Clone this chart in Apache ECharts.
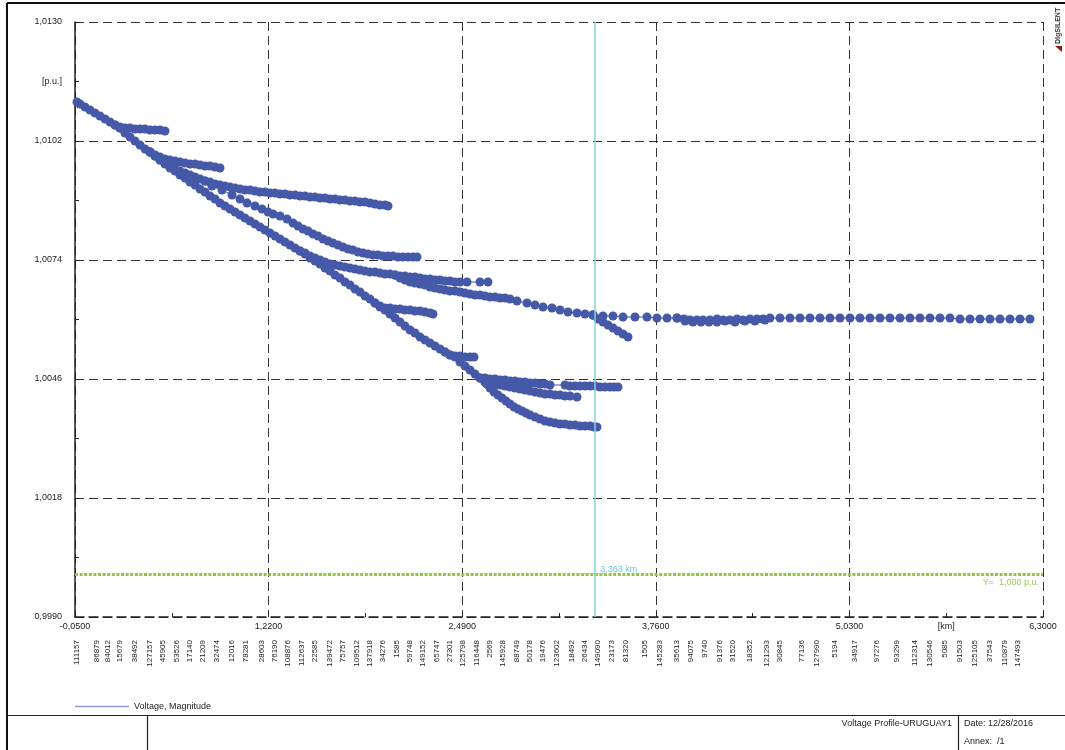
<!DOCTYPE html>
<html>
<head>
<meta charset="utf-8">
<title>Voltage Profile-URUGUAY1</title>
<script src="https://cdn.jsdelivr.net/npm/echarts@6/dist/echarts.min.js"></script>
<style>
html, body { margin: 0; padding: 0; background: #fff; }
#chart { width: 1065px; height: 750px; }
</style>
</head>
<body>
<div id="chart"></div>
<script>
// axis ranges and label positions
var xLabelVals = [-0.05, 1.22, 2.49, 3.76, 5.03, 5.665, 6.3];
var yLabelVals = [0.999, 1.0018, 1.0046, 1.0074, 1.0102, 1.0116, 1.013];

// node names printed under the x axis, and their distances [km]
var nodeNames = ['111157','86879','84012','15679','38492','127157','45905','53526','17140','21209','32474','12016','78281','28603','76190','108876','112637','22585','139472','75757','109512','137918','34276','1585','59748','149152','65747','27301','125798','116448','2569','145928','88749','50178','19476','123602','18492','26434','149090','23173','81320','1505','145283','35613','94075','9740','91376','31520','18352','121293','30845','77136','127990','5194','34917','97276','93299','112314','130546','5085','91503','125105','37543','110879','147493'];
var nodeKm = [-0.0369,0.0943,0.1665,0.2452,0.3436,0.4420,0.5273,0.6191,0.7044,0.7897,0.8815,0.9799,1.0717,1.1767,1.2620,1.3473,1.4391,1.5244,1.6228,1.7081,1.7999,1.8852,1.9704,2.0623,2.1476,2.2328,2.3247,2.4100,2.4952,2.5871,2.6724,2.7576,2.8495,2.9348,3.0200,3.1119,3.2103,3.2956,3.3808,3.4727,3.5645,3.6891,3.7876,3.8991,3.9909,4.0827,4.1811,4.2664,4.3779,4.4895,4.5747,4.7190,4.8174,4.9355,5.0667,5.2110,5.3422,5.4603,5.5587,5.6571,5.7555,5.8539,5.9523,6.0507,6.1360];

// voltage profile branches [km, p.u.]
var trunkStart = [[-0.0369,1.011118],[-0.0172,1.011071],[0.0156,1.011000],[0.0484,1.010929],[0.0812,1.010859],[0.1140,1.010788],[0.1468,1.010718],[0.1796,1.010647],[0.2124,1.010576],[0.2452,1.010506]];
var flatTop = [[0.2124,1.010576],[0.2452,1.010529],[0.2780,1.010506],[0.3108,1.010506],[0.3436,1.010482],[0.3764,1.010482],[0.4092,1.010482],[0.4420,1.010459],[0.4748,1.010459],[0.5076,1.010459],[0.5404,1.010435]];
var trunkMid = [[0.2452,1.010506],[0.2780,1.010388],[0.3108,1.010294],[0.3436,1.010200],[0.3764,1.010106],[0.4092,1.010012],[0.4420,1.009941]];
var clusterBranch = [[0.4420,1.009941],[0.4748,1.009871],[0.5076,1.009824],[0.5404,1.009776],[0.5732,1.009753],[0.6060,1.009729],[0.6388,1.009706],[0.6716,1.009682],[0.7044,1.009659],[0.7372,1.009659],[0.7700,1.009635],[0.8028,1.009612],[0.8356,1.009612],[0.8684,1.009588],[0.9012,1.009565]];
var upperBranch = [[0.4420,1.009941],[0.4748,1.009847],[0.5076,1.009753],[0.5404,1.009682],[0.5732,1.009612],[0.6060,1.009541],[0.6388,1.009494],[0.6716,1.009447],[0.7044,1.009400],[0.7372,1.009353],[0.7700,1.009306],[0.8028,1.009259],[0.8356,1.009235],[0.8684,1.009188],[0.9012,1.009165],[0.9340,1.009141],[0.9668,1.009118],[0.9996,1.009094],[1.0324,1.009071],[1.0652,1.009047],[1.0980,1.009047],[1.1308,1.009024],[1.1636,1.009000],[1.1964,1.009000],[1.2292,1.008976],[1.2620,1.008976],[1.2948,1.008953],[1.3276,1.008953],[1.3604,1.008929],[1.3932,1.008929],[1.4260,1.008906],[1.4588,1.008906],[1.4916,1.008882],[1.5244,1.008882],[1.5572,1.008859],[1.5900,1.008859],[1.6228,1.008835],[1.6556,1.008835],[1.6884,1.008812],[1.7212,1.008812],[1.7540,1.008788],[1.7868,1.008788],[1.8196,1.008765],[1.8524,1.008765],[1.8852,1.008741],[1.9180,1.008718],[1.9508,1.008694],[1.9836,1.008694],[2.0032,1.008671]];
var dottedBranch = [[0.8028,1.009259],[0.8487,1.009141],[0.9143,1.009047],[0.9799,1.008929],[1.0324,1.008835],[1.0783,1.008741],[1.1308,1.008671],[1.1767,1.008600],[1.2161,1.008529],[1.2489,1.008482],[1.2948,1.008435],[1.3407,1.008365],[1.3801,1.008271],[1.4129,1.008200],[1.4457,1.008129],[1.4785,1.008082],[1.5113,1.008012],[1.5441,1.007965],[1.5769,1.007894],[1.6097,1.007847],[1.6425,1.007800],[1.6753,1.007753],[1.7081,1.007706],[1.7409,1.007659],[1.7737,1.007635],[1.8065,1.007588],[1.8393,1.007565],[1.8721,1.007541],[1.9049,1.007518],[1.9376,1.007518],[1.9704,1.007494],[2.0032,1.007494],[2.0360,1.007494],[2.0688,1.007471],[2.1016,1.007471],[2.1344,1.007471],[2.1672,1.007471],[2.1935,1.007471]];
var lowerTrunk = [[0.4420,1.009941],[0.4748,1.009847],[0.5076,1.009753],[0.5404,1.009659],[0.5732,1.009565],[0.6060,1.009494],[0.6388,1.009400],[0.6716,1.009329],[0.7044,1.009235],[0.7372,1.009165],[0.7700,1.009071],[0.8028,1.009000],[0.8356,1.008906],[0.8684,1.008835],[0.9012,1.008741],[0.9340,1.008671],[0.9668,1.008600],[0.9996,1.008529],[1.0324,1.008459],[1.0652,1.008388],[1.0980,1.008318],[1.1308,1.008247],[1.1636,1.008176],[1.1964,1.008106],[1.2292,1.008035],[1.2620,1.007965],[1.2948,1.007894],[1.3276,1.007824],[1.3604,1.007753],[1.3932,1.007682],[1.4260,1.007612],[1.4588,1.007541],[1.4916,1.007447],[1.5244,1.007376],[1.5572,1.007306],[1.5900,1.007212],[1.6228,1.007141],[1.6556,1.007047],[1.6884,1.006976],[1.7212,1.006882],[1.7540,1.006812],[1.7868,1.006718],[1.8196,1.006647],[1.8524,1.006553],[1.8852,1.006482],[1.9180,1.006388],[1.9508,1.006318],[1.9836,1.006224],[2.0164,1.006129],[2.0492,1.006035],[2.0820,1.005941],[2.1148,1.005847],[2.1476,1.005753],[2.1804,1.005682],[2.2132,1.005588],[2.2460,1.005518],[2.2788,1.005447],[2.3116,1.005376],[2.3444,1.005306],[2.3772,1.005235],[2.4100,1.005165],[2.4428,1.005118],[2.4756,1.005000],[2.5084,1.004906],[2.5412,1.004812],[2.5740,1.004718],[2.6068,1.004624],[2.6396,1.004529],[2.6527,1.004482]];
var midBranch = [[1.4260,1.007612],[1.4588,1.007565],[1.4916,1.007494],[1.5244,1.007447],[1.5572,1.007400],[1.5900,1.007353],[1.6228,1.007306],[1.6556,1.007282],[1.6884,1.007259],[1.7212,1.007235],[1.7540,1.007212],[1.7868,1.007188],[1.8196,1.007165],[1.8524,1.007141],[1.8852,1.007118],[1.9180,1.007118],[1.9508,1.007094],[1.9836,1.007071],[2.0164,1.007071],[2.0492,1.007047],[2.0820,1.007024],[2.1148,1.007024],[2.1476,1.007000],[2.1804,1.007000],[2.2132,1.006976],[2.2460,1.006953],[2.2788,1.006953],[2.3116,1.006929],[2.3444,1.006929],[2.3772,1.006906],[2.4100,1.006906],[2.4428,1.006882],[2.4756,1.006882],[2.5215,1.006882],[2.6068,1.006882],[2.6592,1.006882]];
var mainFeeder = [[2.0492,1.007047],[2.0820,1.006976],[2.1148,1.006929],[2.1476,1.006882],[2.1804,1.006859],[2.2132,1.006835],[2.2460,1.006812],[2.2788,1.006765],[2.3116,1.006741],[2.3444,1.006718],[2.3772,1.006694],[2.4100,1.006671],[2.4428,1.006671],[2.4756,1.006647],[2.5084,1.006624],[2.5412,1.006600],[2.5740,1.006576],[2.6068,1.006576],[2.6396,1.006553],[2.6724,1.006529],[2.7052,1.006529],[2.7380,1.006506],[2.7708,1.006506],[2.8036,1.006482],[2.8495,1.006435],[2.9151,1.006388],[2.9676,1.006341],[3.0200,1.006294],[3.0791,1.006271],[3.1316,1.006224],[3.1840,1.006176],[3.2431,1.006153],[3.2956,1.006129],[3.3480,1.006106]];
var tail = [[3.3480,1.006106],[3.4136,1.006082],[3.4792,1.006082],[3.5448,1.006059],[3.6235,1.006059],[3.7023,1.006059],[3.7679,1.006035],[3.8335,1.006035],[3.8991,1.006035],[3.9450,1.006012],[3.9844,1.005988],[4.0303,1.005988],[4.0696,1.005988],[4.1155,1.005988],[4.1615,1.006012],[4.2008,1.005988],[4.2467,1.005988],[4.2927,1.006012],[4.3320,1.005988],[4.3779,1.006012],[4.4239,1.006012],[4.4632,1.006012],[4.5091,1.006035],[4.5747,1.006035],[4.6403,1.006035],[4.7059,1.006035],[4.7715,1.006035],[4.8371,1.006035],[4.9027,1.006035],[4.9683,1.006035],[5.0339,1.006035],[5.0995,1.006035],[5.1651,1.006035],[5.2307,1.006035],[5.2963,1.006035],[5.3619,1.006035],[5.4275,1.006035],[5.4931,1.006035],[5.5587,1.006035],[5.6243,1.006035],[5.6899,1.006035],[5.7555,1.006012],[5.8211,1.006012],[5.8867,1.006012],[5.9523,1.006012],[6.0179,1.006012],[6.0835,1.006012],[6.1491,1.006012],[6.2147,1.006012]];
var tailSide = [[3.8991,1.006035],[3.9516,1.005965],[4.0040,1.005941],[4.0565,1.005941],[4.1090,1.005941],[4.1615,1.005941],[4.2139,1.005965],[4.2795,1.005941],[4.3451,1.005965],[4.4107,1.005965],[4.4763,1.005988]];
var cursorBranch = [[3.3480,1.006106],[3.3808,1.006012],[3.4136,1.005941],[3.4464,1.005871],[3.4792,1.005800],[3.5120,1.005729],[3.5448,1.005659],[3.5776,1.005588]];
var shortBranch1 = [[1.9180,1.006388],[1.9508,1.006294],[1.9836,1.006271],[2.0164,1.006271],[2.0492,1.006247],[2.0820,1.006247],[2.1148,1.006224],[2.1476,1.006224],[2.1804,1.006200],[2.2132,1.006200],[2.2460,1.006176],[2.2788,1.006153],[2.2984,1.006129]];
var shortBranch2 = [[2.3772,1.005235],[2.4100,1.005165],[2.4428,1.005141],[2.4756,1.005141],[2.5084,1.005118],[2.5412,1.005118],[2.5674,1.005118]];
var branchK = [[2.6068,1.004624],[2.6396,1.004624],[2.6724,1.004600],[2.7052,1.004600],[2.7380,1.004576],[2.7708,1.004576],[2.8036,1.004553],[2.8364,1.004553],[2.8692,1.004529],[2.9020,1.004529],[2.9348,1.004506],[2.9676,1.004506],[3.0004,1.004482],[3.0332,1.004482],[3.0660,1.004459],[3.1644,1.004459],[3.1972,1.004435],[3.2300,1.004435],[3.2628,1.004435],[3.2956,1.004435],[3.3284,1.004435],[3.3612,1.004435],[3.3940,1.004412],[3.4268,1.004412],[3.4596,1.004412],[3.4858,1.004412],[3.5120,1.004412]];
var branchL = [[2.6396,1.004529],[2.6724,1.004506],[2.7052,1.004482],[2.7380,1.004459],[2.7708,1.004435],[2.8036,1.004412],[2.8364,1.004388],[2.8692,1.004365],[2.9020,1.004341],[2.9348,1.004318],[2.9676,1.004294],[3.0004,1.004271],[3.0332,1.004247],[3.0660,1.004247],[3.0988,1.004224],[3.1316,1.004224],[3.1644,1.004200],[3.1972,1.004200],[3.2431,1.004176]];
var branchM = [[2.6527,1.004482],[2.6724,1.004388],[2.6986,1.004294],[2.7248,1.004224],[2.7511,1.004153],[2.7773,1.004082],[2.8036,1.004012],[2.8298,1.003941],[2.8560,1.003894],[2.8823,1.003847],[2.9085,1.003800],[2.9348,1.003753],[2.9676,1.003706],[3.0004,1.003659],[3.0332,1.003612],[3.0660,1.003588],[3.0988,1.003565],[3.1316,1.003541],[3.1644,1.003541],[3.1972,1.003518],[3.2300,1.003518],[3.2628,1.003494],[3.2956,1.003494],[3.3284,1.003494],[3.3546,1.003471],[3.3743,1.003471]];

var branches = [trunkStart, flatTop, trunkMid, clusterBranch, upperBranch, dottedBranch, lowerTrunk, midBranch,
    mainFeeder, tail, tailSide, cursorBranch, shortBranch1, shortBranch2, branchK, branchL, branchM];

var cursorKm = 3.363;
var refVoltage = 1.0;

var BLUE = '#4559a8';
var FONT = '"Liberation Sans", Arial, sans-serif';
var NARROW = '"Liberation Sans Narrow", "Liberation Sans", Arial, sans-serif';

function fmt(v) {
    return v.toFixed(4).replace('.', ',');
}

var myChart = echarts.init(document.getElementById('chart'), null, {renderer: 'canvas'});

var series = branches.map(function (d) {
    return {
        type: 'line',
        name: 'Voltage, Magnitude',
        data: d,
        symbol: 'circle',
        symbolSize: 9,
        showSymbol: true,
        itemStyle: {color: BLUE},
        lineStyle: {color: BLUE, width: 1},
        silent: true,
        z: 3
    };
});

// cursor line, reference line and their labels
series.push({
    type: 'line',
    name: 'cursor',
    data: [],
    silent: true,
    z: 5,
    markLine: {
        silent: true,
        symbol: ['none', 'none'],
        animation: false,
        data: [
            {yAxis: refVoltage, lineStyle: {color: '#8dc63f', width: 3, type: [3, 1.6]},
                label: {show: true, position: 'insideEndBottom', formatter: 'Y=  1,000 p.u.', color: '#98c95a', fontSize: 9, fontFamily: FONT, distance: [4, 4]}},
            {xAxis: cursorKm, lineStyle: {color: '#84d3dc', width: 1.5, type: 'solid'}, label: {show: false}},
            [{coord: [3.25, 1.00004], lineStyle: {color: '#84d3dc', width: 1, type: 'solid'}, label: {show: false}}, {coord: [3.44, 1.00004]}]
        ]
    },
    markPoint: {
        silent: true,
        symbol: 'circle',
        symbolSize: 0,
        data: [{coord: [cursorKm, refVoltage], label: {show: true, position: 'right', offset: [0, -5], formatter: '3,363 km', color: '#6ecad6', fontSize: 9, fontFamily: FONT}}]
    }
});

var option = {
    backgroundColor: '#fff',
    animation: false,
    grid: {left: 75, right: 22, top: 22, bottom: 133},
    legend: {
        data: ['Voltage, Magnitude'],
        left: 70,
        top: 697,
        icon: 'rect',
        itemWidth: 54,
        itemHeight: 1.5,
        itemGap: 10,
        selectedMode: false,
        itemStyle: {color: '#8e9bd0'},
        textStyle: {fontSize: 9, color: '#222', fontFamily: FONT}
    },
    xAxis: [{
        type: 'value',
        min: -0.05,
        max: 6.3,
        interval: 1.27,
        axisLine: {show: true, onZero: false, lineStyle: {color: '#222', width: 1.5, type: [9, 5]}},
        axisTick: {show: true, inside: true, length: 5, lineStyle: {color: '#222'}},
        minorTick: {show: true, splitNumber: 2, length: 4, lineStyle: {color: '#222'}},
        splitLine: {show: true, lineStyle: {color: '#333', width: 1, type: [9, 5]}},
        axisLabel: {
            customValues: xLabelVals,
            margin: 5,
            fontSize: 9,
            color: '#222',
            fontFamily: FONT,
            formatter: function (v) {
                if (Math.abs(v - 5.665) < 1e-6) return '[km]';
                return fmt(v);
            }
        }
    }, {
        type: 'value',
        min: -0.05,
        max: 6.3,
        position: 'bottom',
        offset: 15,
        axisLine: {show: false},
        axisTick: {show: false},
        splitLine: {show: false},
        axisLabel: {
            customValues: nodeKm,
            rotate: 90,
            margin: 8,
            fontSize: 8,
            color: '#222',
            fontFamily: NARROW,
            formatter: function (v) {
                for (var i = 0; i < nodeKm.length; i++) {
                    if (Math.abs(nodeKm[i] - v) < 1e-7) return nodeNames[i];
                }
                return '';
            }
        }
    }],
    yAxis: {
        type: 'value',
        min: 0.999,
        max: 1.013,
        interval: 0.0028,
        axisLine: {show: true, onZero: false, lineStyle: {color: '#222', width: 1.5}},
        axisTick: {show: true, inside: true, length: 5, lineStyle: {color: '#222'}},
        minorTick: {show: true, splitNumber: 2, length: 4, lineStyle: {color: '#222'}},
        splitLine: {show: true, lineStyle: {color: '#333', width: 1, type: [9, 5]}},
        axisLabel: {
            customValues: yLabelVals,
            margin: 13,
            fontSize: 9,
            color: '#222',
            fontFamily: FONT,
            formatter: function (v) {
                if (Math.abs(v - 1.0116) < 1e-7) return '[p.u.]';
                return fmt(v);
            }
        }
    },
    series: series,
    graphic: [
        // page frame and footer
        {type: 'line', shape: {x1: 7, y1: 3, x2: 1065, y2: 3}, style: {stroke: '#111', lineWidth: 2}, silent: true},
        {type: 'line', shape: {x1: 7, y1: 3, x2: 7, y2: 750}, style: {stroke: '#111', lineWidth: 2}, silent: true},
        {type: 'line', shape: {x1: 7, y1: 715.5, x2: 1065, y2: 715.5}, style: {stroke: '#222', lineWidth: 1.2}, silent: true},
        {type: 'line', shape: {x1: 147.5, y1: 715, x2: 147.5, y2: 750}, style: {stroke: '#222', lineWidth: 1.2}, silent: true},
        {type: 'line', shape: {x1: 958.5, y1: 715, x2: 958.5, y2: 750}, style: {stroke: '#222', lineWidth: 1.2}, silent: true},
        {type: 'text', x: 952, y: 724, silent: true,
            style: {text: 'Voltage Profile-URUGUAY1', fill: '#222', fontSize: 9, fontFamily: FONT, align: 'right', verticalAlign: 'middle'}},
        {type: 'text', x: 964, y: 724, silent: true,
            style: {text: 'Date: 12/28/2016', fill: '#222', fontSize: 9, fontFamily: FONT, align: 'left', verticalAlign: 'middle'}},
        {type: 'text', x: 964, y: 742, silent: true,
            style: {text: 'Annex:  /1', fill: '#222', fontSize: 9, fontFamily: FONT, align: 'left', verticalAlign: 'middle'}},
        // logo
        {type: 'text', x: 1058, y: 44, rotation: Math.PI / 2, silent: true,
            style: {text: 'DIgSILENT', fill: '#333', fontSize: 7, fontWeight: 'bold', fontFamily: FONT, align: 'left', verticalAlign: 'middle'}},
        {type: 'polygon', shape: {points: [[1055, 46], [1062, 46], [1062, 52]]}, style: {fill: '#8b1a1a'}, silent: true}
    ]
};

myChart.setOption(option);
window.addEventListener('resize', function () {
    myChart.resize();
});
</script>
</body>
</html>
